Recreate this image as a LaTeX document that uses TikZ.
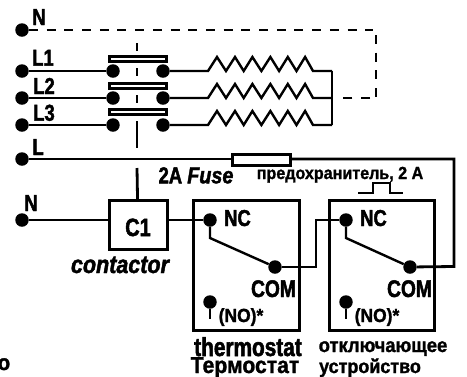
\documentclass[tikz,border=0pt]{standalone}
\usepackage{fontspec}
\usepackage{tikz}
\newfontfamily\condfont{Liberation Sans Bold}[FakeStretch=0.8,FakeBold=2]
\newfontfamily\italfont{Liberation Sans Bold Italic}[FakeStretch=0.86,FakeBold=1.8]
\newfontfamily\rufont{Liberation Sans Bold}[FakeStretch=0.92,FakeBold=1.3]
\tikzset{
    wire/.style = {line width=2.4pt},
    heavywire/.style = {line width=2.8pt},
    dashwire/.style = {line width=2.6pt, dash pattern=on 9pt off 8.7pt},
    terminal/.style = {circle, fill=black, inner sep=0pt, minimum size=13.5pt},
    boxpart/.style = {draw, line width=3pt, inner sep=0pt},
    label/.style = {anchor=base, font=\condfont\fontsize{23}{23}\selectfont, inner sep=0pt},
    rutext/.style = {anchor=base, font=\rufont\fontsize{20}{20}\selectfont, inner sep=0pt}
}

\begin{document}
\begin{tikzpicture}[x=1pt, y=-1pt]
            \useasboundingbox (0,0) rectangle (467,376);
            % terminals
            \node [terminal] (tN) at (22,30) {};
            \node [terminal] (tLa) at (22,71) {};
            \node [terminal] (tLb) at (22,98) {};
            \node [terminal] (tLc) at (22,125) {};
            \node [terminal] (tL) at (22,159) {};
            \node [terminal] (tNb) at (22,220) {};
            \node [terminal] (inA) at (113,71) {};
            \node [terminal] (inB) at (113,98) {};
            \node [terminal] (inC) at (113,125) {};
            \node [terminal] (outA) at (163,71) {};
            \node [terminal] (outB) at (163,98) {};
            \node [terminal] (outC) at (163,125) {};
            \node [boxpart, minimum width=57pt, minimum height=5pt] (barA) at (138,58.7) {};
            \node [boxpart, minimum width=57pt, minimum height=5pt] (barB) at (138,85.5) {};
            \node [boxpart, minimum width=57pt, minimum height=5pt] (barC) at (138,112) {};
            \node [boxpart, minimum width=58pt, minimum height=49pt] (coil) at (138,225) {};
            \node [boxpart, minimum width=58pt, minimum height=11pt] (fuse) at (261.5,159.5) {};
            \node [boxpart, minimum width=106pt, minimum height=130pt] (thermo) at (246,265) {};
            \node [boxpart, minimum width=105pt, minimum height=130pt] (cutout) at (381.5,265) {};
            \node [terminal] (ncA) at (210,220) {};
            \node [terminal] (comA) at (275,267) {};
            \node [terminal] (noA) at (210,302) {};
            \node [terminal] (ncB) at (346,220) {};
            \node [terminal] (comB) at (410,267) {};
            \node [terminal] (noB) at (346,302) {};
            % wires
            \draw [wire] (tLa) -- (inA);
            \draw [wire] (tLb) -- (inB);
            \draw [wire] (tLc) -- (inC);
            \draw [wire] (tNb) -- (tNb -| coil.west);
            \draw [wire] (coil.east |- ncA) -- (ncA);
            \draw [wire] (tL) -- (tL -| fuse.west);
            \draw [heavywire] (fuse.east |- 0,159) -- (454,159) -- (454,266.5) -- (comB);  %Phase
            \draw [wire] (comA) -- (316,267) -- (316,220) -- (ncB);
            \draw [wire] (ncA) -- (210,238) -- (comA);
            \draw [wire] (ncB) -- (346,238) -- (comB);
            \draw [heavywire] (noA) -- (210,319);
            \draw [heavywire] (noB) -- (346,319);
            % heaters
            \foreach \y/\a in {71/A, 98/B, 125/C}
                \draw [wire] (out\a) -- (208,\y) -- ++(9,-14) -- ++(9,14) -- ++(9,-14) -- ++(8.7,14)
                    -- ++(8.7,-14) -- ++(9,14) -- ++(9,-14) -- ++(8.7,14) -- ++(8.7,-14) -- ++(8.7,14)
                    -- ++(8.6,-14) -- (313,\y) -- (332,\y);
            \draw [heavywire] (332,71) -- (332,125);
            % neutral
            \draw [dashwire] (tN) -- (373,30);
            \draw [dashwire] (376,35) -- (376,97);
            \draw [dashwire] (370,98) -- (343,98);
            % linkage
            \draw [heavywire, dash pattern=on 8pt off 17pt on 8pt off 19pt on 8pt off 18pt on 27pt] (137,43) -- (137,148);
            \draw [heavywire] (137,168) -- (coil);
            % pulse
            \draw [line width=2.8pt] (358,193) -- (373,193) -- (373,183) -- (390,183) -- (390,193) -- (403,193);
            % text
            \node [label] at (39,25) {N};
            \node [label] at (43,65.7) {L1};
            \node [label] at (44,94) {L2};
            \node [label] at (44,120.7) {L3};
            \node [label] at (38,155) {L};
            \node [label] at (31,211) {N};
            \node [label, font=\condfont\fontsize{25}{25}\selectfont] at (138,236) {C1};
            \node [label] at (196,183.3) {2A {\italfont Fuse}};
            \node [rutext, font=\rufont\fontsize{17.5}{17.5}\selectfont] at (340,179) {предохранитель, 2 A};
            \node [label, font=\italfont\fontsize{25}{25}\selectfont] at (120,273) {contactor};
            \node [label] at (237.5,226) {NC};
            \node [label] at (373.5,226) {NC};
            \node [label, font=\condfont\fontsize{24}{24}\selectfont] at (273.5,297) {COM};
            \node [label, font=\condfont\fontsize{24}{24}\selectfont] at (409.5,297) {COM};
            \node [rutext, font=\rufont\fontsize{19}{19}\selectfont] at (241,322) {(NO)*};
            \node [rutext, font=\rufont\fontsize{19}{19}\selectfont] at (377,322) {(NO)*};
            \node [label, font=\condfont\fontsize{26}{26}\selectfont] at (248,356) {thermostat};
            \node [rutext, font=\rufont\fontsize{23}{23}\selectfont] at (245,373) {Термостат};
            \node [rutext] at (383,352) {отключающее};
            \node [rutext, font=\rufont\fontsize{19.5}{19.5}\selectfont] at (370,373) {устройство};
            \node [rutext, font=\rufont\fontsize{22}{22}\selectfont] at (4,370) {o};
        \end{tikzpicture}
\end{document}
